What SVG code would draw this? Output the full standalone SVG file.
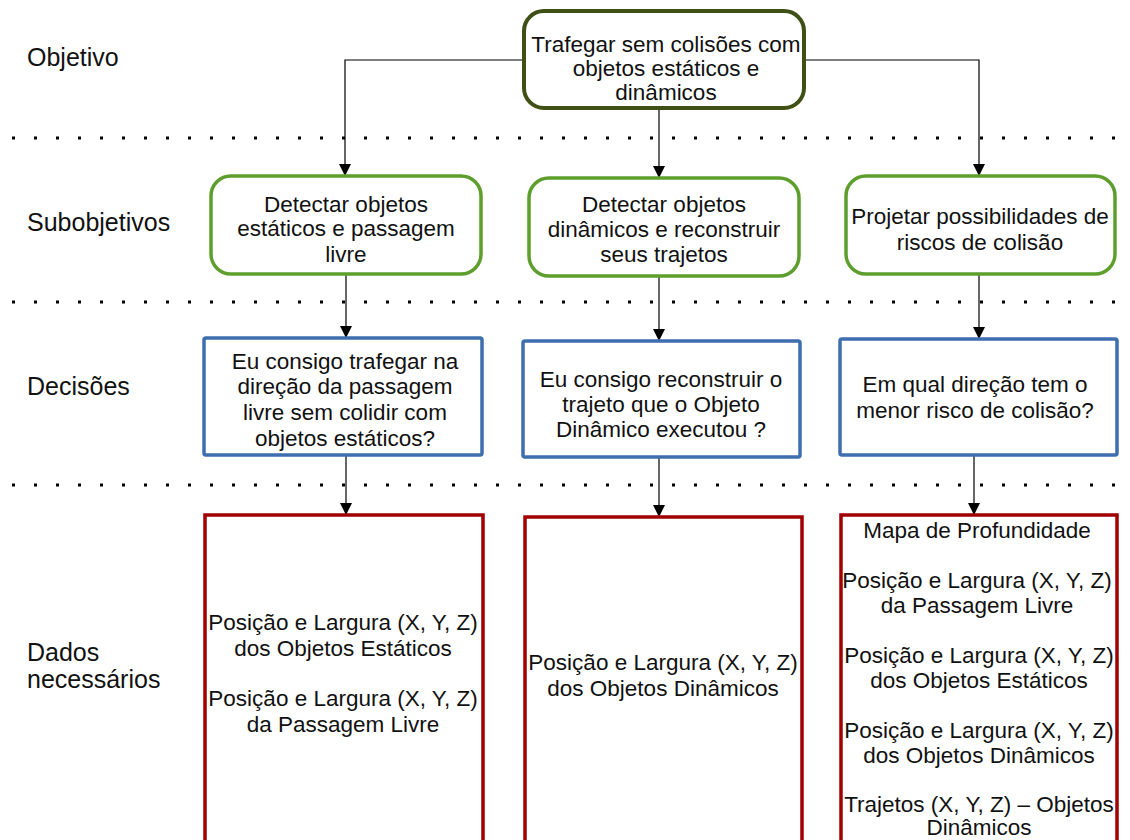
<svg xmlns="http://www.w3.org/2000/svg" width="1130" height="840" viewBox="0 0 1130 840">
  <style>
    text { font-family: "Liberation Sans", Arial, sans-serif; font-size: 22.5px; fill: #111; }
    .c { text-anchor: middle; }
    .lbl { font-size: 25px; }
    .goal { fill: #fff; stroke: #3f5015; stroke-width: 4; }
    .sub { fill: #fff; stroke: #5e9e2c; stroke-width: 3.5; }
    .dec { fill: #fff; stroke: #3d6eae; stroke-width: 3.5; }
    .data { fill: #fff; stroke: #a00000; stroke-width: 3.5; }
    .sep { stroke: #000; stroke-width: 3; stroke-dasharray: 3 19; fill: none; }
    .wire { stroke: #000; stroke-width: 1.2; fill: none; }
  </style>
  <defs>
    <marker id="arrow" markerWidth="12" markerHeight="14" refX="11" refY="6" orient="auto" markerUnits="userSpaceOnUse">
      <path d="M0,0 L12,6 L0,12 Z" fill="#000"/>
    </marker>
  </defs>
  <rect width="1130" height="840" fill="#fff"/>

  <!-- level separators -->
  <g id="separators">
    <line class="sep" x1="12" y1="138" x2="1130" y2="138"/>
    <line class="sep" x1="12" y1="302" x2="1130" y2="302"/>
    <line class="sep" x1="12" y1="485" x2="1130" y2="485"/>
  </g>

  <!-- row labels -->
  <g id="labels">
    <text class="lbl" x="27" y="66">Objetivo</text>
    <text class="lbl" x="27" y="231">Subobjetivos</text>
    <text class="lbl" x="27" y="395">Decisões</text>
    <text class="lbl" x="27" y="661">Dados</text>
    <text class="lbl" x="27" y="688">necessários</text>
  </g>

  <!-- connectors -->
  <g id="connectors">
    <polyline class="wire" points="523,60 345,60 345,175" marker-end="url(#arrow)"/>
    <polyline class="wire" points="805,60 979,60 979,175" marker-end="url(#arrow)"/>
    <line class="wire" x1="659" y1="108" x2="659" y2="177" marker-end="url(#arrow)"/>
    <line class="wire" x1="346" y1="275" x2="346" y2="337" marker-end="url(#arrow)"/>
    <line class="wire" x1="659" y1="277" x2="659" y2="340" marker-end="url(#arrow)"/>
    <line class="wire" x1="979" y1="275" x2="979" y2="338" marker-end="url(#arrow)"/>
    <line class="wire" x1="346" y1="455" x2="346" y2="514" marker-end="url(#arrow)"/>
    <line class="wire" x1="659" y1="457" x2="659" y2="516" marker-end="url(#arrow)"/>
    <line class="wire" x1="974" y1="455" x2="974" y2="514" marker-end="url(#arrow)"/>
  </g>

  <!-- objective -->
  <g id="goal">
    <rect class="goal" x="524" y="11" width="280" height="97" rx="20"/>
    <text class="c" x="666" y="52">Trafegar sem colisões com</text>
    <text class="c" x="666" y="76">objetos estáticos e</text>
    <text class="c" x="666" y="100">dinâmicos</text>
  </g>

  <!-- sub-objectives -->
  <g id="sub-static">
    <rect class="sub" x="211" y="176" width="270" height="98" rx="20"/>
    <text class="c" x="346" y="212">Detectar objetos</text>
    <text class="c" x="346" y="236">estáticos e passagem</text>
    <text class="c" x="346" y="262">livre</text>
  </g>
  <g id="sub-dynamic">
    <rect class="sub" x="529" y="178" width="270" height="98" rx="20"/>
    <text class="c" x="664" y="212">Detectar objetos</text>
    <text class="c" x="664" y="237">dinâmicos e reconstruir</text>
    <text class="c" x="664" y="262">seus trajetos</text>
  </g>
  <g id="sub-risk">
    <rect class="sub" x="846" y="176" width="269" height="98" rx="20"/>
    <text class="c" x="980" y="224">Projetar possibilidades de</text>
    <text class="c" x="980" y="250">riscos de colisão</text>
  </g>

  <!-- decisions -->
  <g id="dec-static">
    <rect class="dec" x="204" y="338" width="278" height="117" rx="2"/>
    <text class="c" x="345" y="369">Eu consigo trafegar na</text>
    <text class="c" x="345" y="394">direção da passagem</text>
    <text class="c" x="345" y="420">livre sem colidir com</text>
    <text class="c" x="345" y="446">objetos estáticos?</text>
  </g>
  <g id="dec-dynamic">
    <rect class="dec" x="523" y="341" width="277" height="116" rx="2"/>
    <text class="c" x="661" y="387">Eu consigo reconstruir o</text>
    <text class="c" x="661" y="412">trajeto que o Objeto</text>
    <text class="c" x="661" y="437">Dinâmico executou ?</text>
  </g>
  <g id="dec-risk">
    <rect class="dec" x="840" y="339" width="277" height="116" rx="2"/>
    <text class="c" x="975" y="392">Em qual direção tem o</text>
    <text class="c" x="975" y="418">menor risco de colisão?</text>
  </g>

  <!-- required data -->
  <g id="data-static">
    <rect class="data" x="205" y="515" width="278" height="340"/>
    <text class="c" x="343" y="630">Posição e Largura (X, Y, Z)</text>
    <text class="c" x="343" y="656">dos Objetos Estáticos</text>
    <text class="c" x="343" y="706">Posição e Largura (X, Y, Z)</text>
    <text class="c" x="343" y="732">da Passagem Livre</text>
  </g>
  <g id="data-dynamic">
    <rect class="data" x="525" y="517" width="277" height="340"/>
    <text class="c" x="663" y="670">Posição e Largura (X, Y, Z)</text>
    <text class="c" x="663" y="696">dos Objetos Dinâmicos</text>
  </g>
  <g id="data-risk">
    <rect class="data" x="841" y="515" width="276" height="340"/>
    <text class="c" x="977" y="538">Mapa de Profundidade</text>
    <text class="c" x="977" y="588">Posição e Largura (X, Y, Z)</text>
    <text class="c" x="977" y="613">da Passagem Livre</text>
    <text class="c" x="979" y="663">Posição e Largura (X, Y, Z)</text>
    <text class="c" x="979" y="688">dos Objetos Estáticos</text>
    <text class="c" x="979" y="738">Posição e Largura (X, Y, Z)</text>
    <text class="c" x="979" y="763">dos Objetos Dinâmicos</text>
    <text class="c" x="979" y="812">Trajetos (X, Y, Z) – Objetos</text>
    <text class="c" x="979" y="835">Dinâmicos</text>
  </g>
</svg>
